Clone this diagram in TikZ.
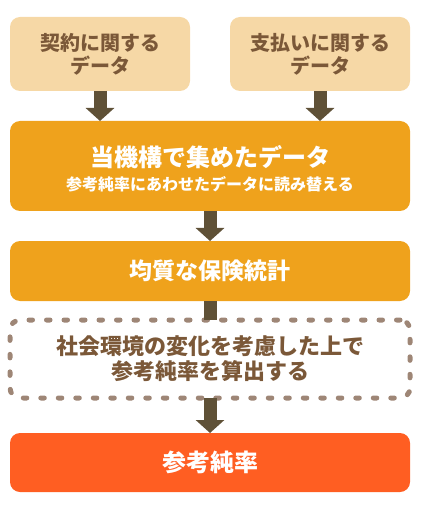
\documentclass[tikz,border=0pt]{standalone}
\usepackage{fontspec}
\setmainfont{Noto Sans CJK JP}
\usetikzlibrary{arrows.meta}
\definecolor{lightbox}{RGB}{246,216,166}
\definecolor{browntext}{RGB}{123,88,56}
\definecolor{mainorange}{RGB}{239,162,28}
\definecolor{arrowcol}{RGB}{95,81,55}
\definecolor{dotcol}{RGB}{158,134,118}
\definecolor{redorange}{RGB}{255,94,34}
\begin{document}
\begin{tikzpicture}[x=1pt,y=1pt,yscale=-1,xscale=1,
  box/.style={rounded corners=10pt, inner sep=0pt, outer sep=0pt, align=center},
  blockarrow/.style={draw=arrowcol, line width=13pt, -{Triangle[width=28pt,length=13pt]}}]
\useasboundingbox (0,0) rectangle (420,510);

%Rounded Rect (top left)
\node [box, fill=lightbox, text=browntext, minimum width=180pt, minimum height=74pt, font=\bfseries\fontsize{20}{23}\selectfont] (keiyaku) at (100,54) {契約に関する\\データ};
%Rounded Rect (top right)
\node [box, fill=lightbox, text=browntext, minimum width=180pt, minimum height=74pt, font=\bfseries\fontsize{20}{23}\selectfont] (shiharai) at (320,54) {支払いに関する\\データ};
%Rounded Rect (collected data)
\node [box, fill=mainorange, text=white, minimum width=400pt, minimum height=90pt, font=\bfseries\fontsize{24}{24}\selectfont] (kikou) at (210,166) {\rule{0pt}{26pt}当機構で集めたデータ\\{\fontsize{16}{16}\selectfont 参考純率にあわせたデータに読み替える}};
%Rounded Rect (statistics)
\node [box, fill=mainorange, text=white, minimum width=400pt, minimum height=60pt, font=\bfseries\fontsize{23}{27}\selectfont] (toukei) at (210,271) {均質な保険統計};
%Rounded Rect (dotted)
\node [box, draw=dotcol, line width=5pt, dash pattern=on 3.5pt off 14pt, line cap=round, text=browntext, minimum width=400pt, minimum height=78pt, font=\bfseries\fontsize{22}{25}\selectfont] (kouryo) at (210,359) {社会環境の変化を考慮した上で\\参考純率を算出する};
%Rounded Rect (result)
\node [box, fill=redorange, text=white, minimum width=400pt, minimum height=59pt, font=\bfseries\fontsize{24}{28}\selectfont] (junritsu) at (210,462.5) {参考純率};

%Arrows
\draw [blockarrow] (keiyaku.south) -- (keiyaku.south |- kikou.north);
\draw [blockarrow] (shiharai.south) -- (shiharai.south |- kikou.north);
\draw [blockarrow] (kikou.south) -- (toukei.north);
\draw [draw=arrowcol, line width=13pt] (toukei.south) -- (kouryo.north);
\draw [blockarrow] (kouryo.south) -- (junritsu.north);

\end{tikzpicture}
\end{document}
